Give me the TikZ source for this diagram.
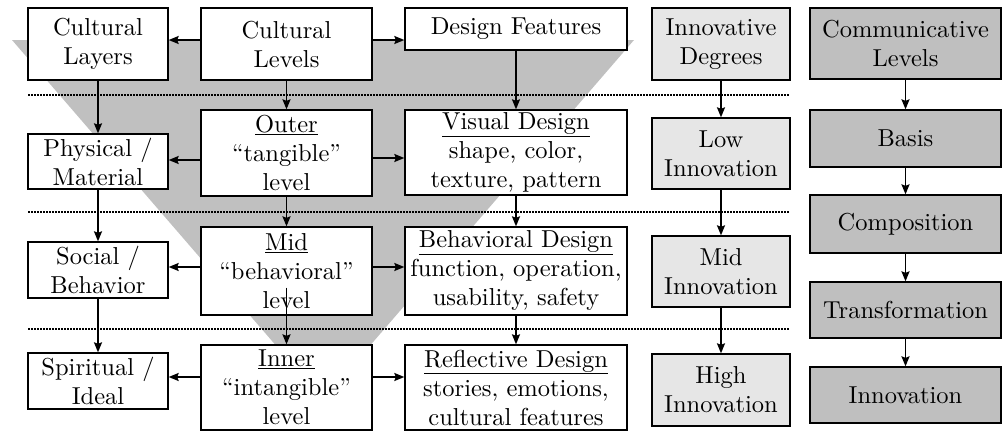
\documentclass[tikz,border=0pt]{standalone}
\usepackage{fontspec}
\setmainfont{lmroman10-regular.otf}
\usetikzlibrary{arrows.meta,calc}
\definecolor{funnel}{RGB}{192,192,192}
\definecolor{lightbox}{RGB}{230,230,230}
\definecolor{darkbox}{RGB}{191,191,191}
\begin{document}
\begin{tikzpicture}[x=1pt,y=-1pt,
 box/.style={draw=black, line width=1.3pt, fill=white, inner sep=0pt},
 lbox/.style={box, fill=lightbox},
 dbox/.style={box, fill=darkbox},
 txt/.style={align=center, inner sep=0pt, font=\rmfamily\fontsize{24.5}{29}\selectfont},
 arr/.style={line width=1.6pt, -{Stealth[length=10pt,width=8pt,inset=1.5pt]}},
 sep/.style={line width=1.5pt, dash pattern=on 1.5pt off 1.5pt}]
\useasboundingbox (0,0) rectangle (1002,432);
% funnel
\fill[funnel] (12,40) -- (634,40) -- (323,400) -- cycle;
% separators
\draw[sep] (28,95) -- (790,95);
\draw[sep] (28,212) -- (790,212);
\draw[sep] (28,329) -- (790,329);
% column 1
\node[box, minimum width=140, minimum height=72] (L1) at (98,44) {};
\node[box, minimum width=140, minimum height=55] (L2) at (98,161.5) {};
\node[box, minimum width=140, minimum height=56] (L3) at (98,270) {};
\node[box, minimum width=140, minimum height=56] (L4) at (98,381) {};
% column 2
\node[box, minimum width=171, minimum height=72] (CL) at (286.5,44) {};
\node[box, minimum width=171, minimum height=86] (O) at (286.5,153) {};
\node[box, minimum width=171, minimum height=88] (M) at (286.5,271) {};
\node[box, minimum width=171, minimum height=85] (I) at (286.5,387.5) {};
% column 3
\node[box, minimum width=222, minimum height=42] (DF) at (516,29) {};
\node[box, minimum width=222, minimum height=85] (V) at (516,152.5) {};
\node[box, minimum width=222, minimum height=88] (B) at (516,271) {};
\node[box, minimum width=222, minimum height=85] (R) at (516,387.5) {};
% column 4
\node[lbox, minimum width=138, minimum height=72] (ID) at (721,44) {};
\node[lbox, minimum width=138, minimum height=71] (LI) at (721,153.5) {};
\node[lbox, minimum width=138, minimum height=71] (MI) at (721,271.5) {};
\node[lbox, minimum width=138, minimum height=72] (HI) at (721,390) {};
% column 5
\node[dbox, minimum width=191, minimum height=71] (CV) at (905.5,43.5) {};
\node[dbox, minimum width=191, minimum height=57] (BA) at (905.5,138.5) {};
\node[dbox, minimum width=191, minimum height=58] (CO) at (905.5,224) {};
\node[dbox, minimum width=191, minimum height=56] (TR) at (905.5,310) {};
\node[dbox, minimum width=191, minimum height=56] (IN) at (905.5,395) {};
% horizontal arrows
\draw[arr] ([yshift=4pt]CL.west) -- ([yshift=4pt]CL.west -| L1.east);
\draw[arr] ([yshift=4pt]CL.east) -- ([yshift=4pt]CL.east -| DF.west);
\draw[arr] ([yshift=-7pt]O.west) -- ([yshift=-7pt]O.west -| L2.east);
\draw[arr] ([yshift=-5pt]O.east) -- ([yshift=-5pt]O.east -| V.west);
\draw[arr] ([yshift=4pt]M.west) -- ([yshift=4pt]M.west -| L3.east);
\draw[arr] ([yshift=4pt]M.east) -- ([yshift=4pt]M.east -| B.west);
\draw[arr] ([yshift=4pt]L4.east -| I.west) -- ([yshift=4pt]L4.east);
\draw[arr] ([yshift=4pt]L4.east -| I.east) -- ([yshift=4pt]L4.east -| R.west);
% vertical arrows
\draw[arr] (L1.south) -- (L2.north);
\draw[arr] (L2.south) -- (L3.north);
\draw[arr] (L3.south) -- (L4.north);
\draw[arr] (CL.south) -- (O.north);
\draw[arr] (O.south) -- (M.north);
\draw[arr] ([yshift=28pt]M.south) -- (I.north);
\draw[arr] (DF.south) -- (V.north);
\draw[arr] (V.south) -- (B.north);
\draw[arr] (B.south) -- (R.north);
\draw[arr] (ID.south) -- (LI.north);
\draw[arr] (LI.south) -- (MI.north);
\draw[arr] (MI.south) -- (HI.north);
\draw[arr] (CV.south) -- (BA.north);
\draw[arr] (BA.south) -- (CO.north);
\draw[arr] (CO.south) -- (TR.north);
\draw[arr] (TR.south) -- (IN.north);
% texts
\node[txt] (L1t) at (L1) {Cultural\\Layers};
\node[txt] (L2t) at (L2) {Physical /\\Material};
\node[txt] (L3t) at (L3) {Social /\\Behavior};
\node[txt] (L4t) at (L4) {Spiritual /\\Ideal};
\node[txt] (CLt) at (CL) {Cultural\\Levels};
\node[txt] (Ot) at (O) {\underline{Outer}\\“tangible”\\level};
\node[txt] (Mt) at (M) {\underline{Mid}\\“behavioral”\\level};
\node[txt] (It) at (I) {\underline{Inner}\\“intangible”\\level};
\node[txt] (DFt) at (DF) {Design Features};
\node[txt] (Vt) at (V) {\underline{Visual Design}\\shape, color,\\texture, pattern};
\node[txt] (Bt) at (B) {\underline{Behavioral Design}\\function, operation,\\usability, safety};
\node[txt] (Rt) at (R) {\underline{Reflective Design}\\stories, emotions,\\cultural features};
\node[txt] (IDt) at (ID) {Innovative\\Degrees};
\node[txt] (LIt) at (LI) {Low\\Innovation};
\node[txt] (MIt) at (MI) {Mid\\Innovation};
\node[txt] (HIt) at (HI) {High\\Innovation};
\node[txt] (CVt) at (CV) {Communicative\\Levels};
\node[txt] (BAt) at (BA) {Basis};
\node[txt] (COt) at (CO) {Composition};
\node[txt] (TRt) at (TR) {Transformation};
\node[txt] (INt) at (IN) {Innovation};
\end{tikzpicture}
\end{document}
